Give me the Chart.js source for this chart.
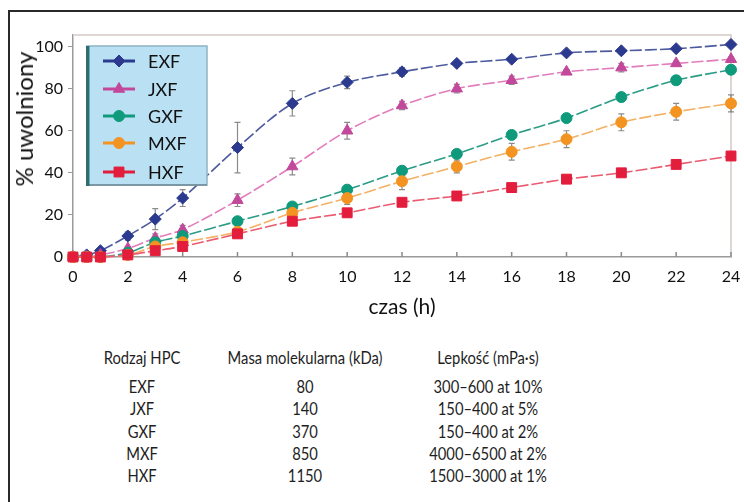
<!DOCTYPE html>
<html>
<head>
<meta charset="utf-8">
<script src="https://cdn.jsdelivr.net/npm/chart.js@4.4.1/dist/chart.umd.min.js"></script>
<style>
  html, body { margin: 0; padding: 0; background: #fff; }
  body { width: 744px; height: 502px; position: relative; overflow: hidden; font-family: Lato, "Open Sans", sans-serif; color: #1a1a1a; }
  #frame { position: absolute; left: 8px; top: 10px; width: 800px; height: 600px; border-left: 2px solid #2a2a2a; border-top: 2px solid #2a2a2a; }
  #wrap { position: absolute; left: 0; top: 0; width: 744px; height: 320px; }
  .cell { position: absolute; width: 240px; text-align: center; font-family: Lato, "Open Sans", sans-serif; font-size: 18px; line-height: 20px; white-space: nowrap; color: #1e1e1e; transform: scaleX(0.82); transform-origin: 50% 50%; }
  #ytitle { position: absolute; left: 24px; top: 119px; width: 0; height: 0; }
  #ytitle span { position: absolute; left: 0; top: 0; transform: translate(-50%, -50%) rotate(-90deg); white-space: nowrap; font-size: 24px; line-height: 28px; color: #111; }
</style>
</head>
<body>
<div id="frame"></div>
<div id="wrap"><canvas id="c" width="744" height="320"></canvas></div>
<div id="ytitle"><span id="ytitleText"></span></div>
<div id="table"></div>
<script>
// ---- data ----
const times = [0, 0.5, 1, 2, 3, 4, 6, 8, 10, 12, 14, 16, 18, 20, 22, 24];
const seriesNames = ['EXF', 'JXF', 'GXF', 'MXF', 'HXF'];
const exfValues = [0, 1, 3, 10, 18, 28, 52, 73, 83, 88, 92, 94, 97, 98, 99, 101];
const jxfValues = [0, 0, 1, 4, 9, 13, 27, 43, 60, 72, 80, 84, 88, 90, 92, 94];
const gxfValues = [0, 0, 0, 2, 7, 10, 17, 24, 32, 41, 49, 58, 66, 76, 84, 89];
const mxfValues = [0, 0, 0, 1, 5, 7, 12, 21, 28, 36, 43, 50, 56, 64, 69, 73];
const hxfValues = [0, 0, 0, 1, 3, 5, 11, 17, 21, 26, 29, 33, 37, 40, 44, 48];
const exfErrors = [0, 0, 0, 2, 5, 4, 12, 6, 3, 2, 1, 1, 1, 1, 1, 1];
const jxfErrors = [0, 0, 0, 1, 2, 2, 3, 4, 4, 2, 2, 2, 1, 2, 1, 1];
const gxfErrors = [0, 0, 0, 1, 1, 1, 1, 1, 2, 2, 2, 2, 2, 2, 2, 2];
const mxfErrors = [0, 0, 0, 1, 1, 1, 1, 2, 3, 4, 3, 4, 4, 4, 4, 4];
const hxfErrors = [0, 0, 0, 1, 1, 1, 1, 1, 1, 1, 1, 1, 1, 1, 1, 1];
const xTickValues = [0, 2, 4, 6, 8, 10, 12, 14, 16, 18, 20, 22, 24];
const yTickValues = [0, 20, 40, 60, 80, 100];
const xTitle = 'czas (h)';
const yTitle = '% uwolniony';
const tableHeaders = ['Rodzaj HPC', 'Masa molekularna (kDa)', 'Lepkość (mPa·s)'];
const hpcTypes = ['EXF', 'JXF', 'GXF', 'MXF', 'HXF'];
const molecularMasses = ['80', '140', '370', '850', '1150'];
const viscosities = ['300–600 at 10%', '150–400 at 5%', '150–400 at 2%', '4000–6500 at 2%', '1500–3000 at 1%'];

// ---- styles ----
const markerColors = ['#2b3a8f', '#c2489b', '#0f9a7c', '#f39322', '#e31d3c'];
const lineColors = ['#4d5b9e', '#e27cbb', '#2a9c86', '#f4b063', '#ea5a70'];
const pointStyles = ['rectRot', 'triangle', 'circle', 'circle', 'rect'];
const pointRadii = [6, 6.5, 5.5, 5.5, 7];
const allValues = [exfValues, jxfValues, gxfValues, mxfValues, hxfValues];
const allErrors = [exfErrors, jxfErrors, gxfErrors, mxfErrors, hxfErrors];

const FONT = 'Lato, "Open Sans", sans-serif';

document.getElementById('ytitleText').textContent = yTitle;

const datasets = seriesNames.map((name, i) => ({
  label: name,
  data: times.map((t, k) => ({ x: t, y: allValues[i][k] })),
  errors: allErrors[i],
  borderColor: lineColors[i],
  backgroundColor: markerColors[i],
  pointBackgroundColor: markerColors[i],
  pointBorderColor: markerColors[i],
  pointBorderWidth: 1,
  pointStyle: pointStyles[i],
  pointRadius: pointRadii[i],
  borderWidth: 1.6,
  borderDash: [12, 3],
  tension: 0.3,
  clip: false,
  order: 5 - i
}));

const frameAndTicks = {
  id: 'frameAndTicks',
  beforeDatasetsDraw(chart) {
    const { ctx, chartArea: a, scales } = chart;
    ctx.save();
    ctx.strokeStyle = '#ddd6d3';
    ctx.lineWidth = 2;
    ctx.beginPath();
    ctx.moveTo(a.left, a.top); ctx.lineTo(a.right, a.top); ctx.lineTo(a.right, a.bottom);
    ctx.stroke();
    ctx.strokeStyle = '#8a8a8a';
    ctx.lineWidth = 1.5;
    scales.x.ticks.forEach(t => {
      const px = scales.x.getPixelForValue(t.value);
      ctx.beginPath(); ctx.moveTo(px, a.bottom); ctx.lineTo(px, a.bottom - 5); ctx.stroke();
    });
    chart.data.datasets.forEach((ds) => {
      ctx.strokeStyle = 'rgba(90,90,90,0.7)';
      ctx.lineWidth = 1.2;
      ds.data.forEach((p, k) => {
        const e = ds.errors[k];
        if (!e) return;
        const px = scales.x.getPixelForValue(p.x);
        const y1 = scales.y.getPixelForValue(p.y + e);
        const y2 = scales.y.getPixelForValue(p.y - e);
        ctx.beginPath();
        ctx.moveTo(px, y1); ctx.lineTo(px, y2);
        ctx.moveTo(px - 3, y1); ctx.lineTo(px + 3, y1);
        ctx.moveTo(px - 3, y2); ctx.lineTo(px + 3, y2);
        ctx.stroke();
      });
    });
    ctx.restore();
  }
};

const boxLegend = {
  id: 'boxLegend',
  afterDatasetsDraw(chart) {
    const ctx = chart.ctx;
    const x0 = 87, y0 = 46, w = 120, h = 139;
    ctx.save();
    ctx.fillStyle = '#b9e1f3';
    ctx.fillRect(x0, y0, w, h);
    ctx.strokeStyle = '#8fb3c4';
    ctx.lineWidth = 1.5;
    ctx.strokeRect(x0, y0, w, h);
    ctx.strokeStyle = '#6f8a96';
    ctx.beginPath(); ctx.moveTo(x0, y0 + h); ctx.lineTo(x0 + w, y0 + h); ctx.stroke();
    ctx.fillStyle = '#2f6e70';
    ctx.fillRect(x0 - 1, y0, 3.5, h + 1);
    const rowY = [61, 89, 116, 143, 172];
    chart.data.datasets.forEach((ds, i) => {
      const y = rowY[i];
      ctx.strokeStyle = markerColors[i];
      ctx.lineWidth = 3;
      ctx.beginPath(); ctx.moveTo(103, y); ctx.lineTo(135, y); ctx.stroke();
      ctx.fillStyle = markerColors[i];
      ctx.strokeStyle = markerColors[i];
      ctx.lineWidth = 1;
      Chart.helpers.drawPoint(ctx, { pointStyle: ds.pointStyle, radius: ds.pointRadius, rotation: 0, borderWidth: 1 }, 119, y);
      ctx.fillStyle = '#111';
      ctx.font = '18px ' + FONT;
      ctx.textBaseline = 'middle';
      ctx.textAlign = 'left';
      ctx.fillText(ds.label, 148, y + 1);
    });
    ctx.restore();
  }
};

new Chart(document.getElementById('c'), {
  type: 'line',
  data: { datasets },
  plugins: [frameAndTicks, boxLegend],
  options: {
    responsive: false,
    animation: false,
    layout: { padding: { top: 35, right: 13, left: 0, bottom: 0 } },
    plugins: { legend: { display: false }, tooltip: { enabled: false } },
    scales: {
      x: {
        type: 'linear',
        min: 0, max: 24,
        afterBuildTicks: s => { s.ticks = xTickValues.map(v => ({ value: v })); },
        afterFit: s => { s.height = 63; s.paddingLeft = 0; s.paddingRight = 0; },
        grid: { display: true, drawOnChartArea: false, drawTicks: false },
        border: { display: true, color: '#9a9a9a', width: 1.5 },
        ticks: { color: '#111', font: { family: FONT, size: 16 }, padding: 10, maxRotation: 0 },
        title: { display: true, text: xTitle, color: '#111', font: { family: FONT, size: 21 }, padding: { top: 0, bottom: 0 } }
      },
      y: {
        type: 'linear',
        min: 0, max: 105.5,
        afterBuildTicks: s => { s.ticks = yTickValues.map(v => ({ value: v })); },
        afterFit: s => { s.width = 73; s.paddingTop = 0; s.paddingBottom = 0; },
        grid: { display: true, drawOnChartArea: false, drawTicks: true, tickLength: 5, color: '#9a9a9a' },
        border: { display: true, color: '#9a9a9a', width: 1.5 },
        ticks: { color: '#111', font: { family: FONT, size: 16 }, padding: 5 },
        title: { display: false }
      }
    }
  }
});

// ---- table ----
const tbl = document.getElementById('table');
const colCenters = [142, 305, 488];
const headerY = 357;
const rowYs = [386, 408, 431, 453, 475];
function addCell(text, cx, cy) {
  const d = document.createElement('div');
  d.className = 'cell';
  d.textContent = text;
  d.style.left = (cx - 120) + 'px';
  d.style.top = (cy - 10) + 'px';
  tbl.appendChild(d);
}
tableHeaders.forEach((h, j) => addCell(h, colCenters[j], headerY));
hpcTypes.forEach((t, i) => {
  addCell(t, colCenters[0], rowYs[i]);
  addCell(molecularMasses[i], colCenters[1], rowYs[i]);
  addCell(viscosities[i], colCenters[2], rowYs[i]);
});
</script>
</body>
</html>
